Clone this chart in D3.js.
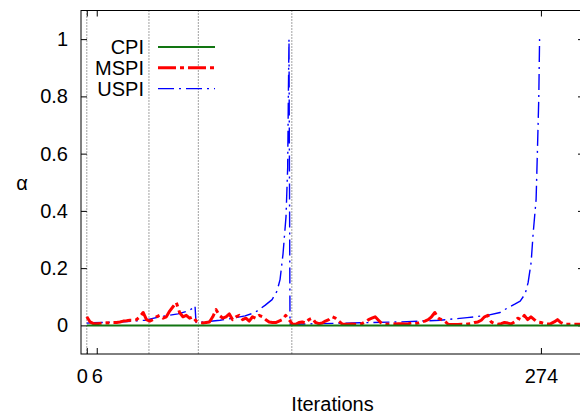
<!DOCTYPE html>
<html>
<head>
<meta charset="utf-8">
<script src="https://cdn.jsdelivr.net/npm/d3@7"></script>
<style>
  body { margin: 0; background: #fff; }
  svg { display: block; font-family: "Liberation Sans", Arial, sans-serif; }
</style>
</head>
<body>
<div id="chart"></div>
<script>
// series names / colours
var names = ["CPI", "MSPI", "USPI"];
var colors = ["#127512", "#ff0000", "#0000ff"];

// axis ticks
var xTicks = [0, 6, 274];
var yTicks = [0, 0.2, 0.4, 0.6, 0.8, 1];

// vertical dotted markers (iterations)
var marks = [0, 37.5, 67.3, 123.7];

// CPI stays at zero the whole run
var cpiIter = [0, 300];
var cpiVal = [0, 0];

// MSPI, one value every 2 iterations starting at 0
var mspiVal = [0.03, 0.012, 0.006, 0.006, 0.007, 0.008, 0.009, 0.008, 0.01, 0.01,
  0.012, 0.015, 0.016, 0.018, 0.018, 0.02, 0.03, 0.045, 0.02, 0.015,
  0.02, 0.03, 0.035, 0.025, 0.03, 0.05, 0.065, 0.08, 0.045, 0.03,
  0.035, 0.025, 0.03, 0.015, 0.01, 0.008, 0.01, 0.012, 0.03, 0.055,
  0.035, 0.025, 0.03, 0.04, 0.02, 0.03, 0.035, 0.02, 0.025, 0.015,
  0.03, 0.025, 0.035, 0.03, 0.02, 0.012, 0.01, 0.01, 0.015, 0.02,
  0.035, 0.02, 0.005, 0.004, 0.01, 0.012, 0.008, 0.02, 0.025, 0.01,
  0.006, 0.008, 0.015, 0.02, 0.03, 0.025, 0.015, 0.005, 0.004, 0.004,
  0.005, 0.004, 0.004, 0.006, 0.012, 0.02, 0.025, 0.03, 0.018, 0.006,
  0.005, 0.004, 0.006, 0.005, 0.006, 0.006, 0.005, 0.006, 0.008, 0.006,
  0.008, 0.012, 0.015, 0.02, 0.03, 0.045, 0.025, 0.02, 0.015, 0.004,
  0.003, 0.003, 0.003, 0.004, 0.003, 0.005, 0.006, 0.01, 0.012, 0.018,
  0.03, 0.035, 0.012, 0.006, 0.004, 0.006, 0.01, 0.008, 0.005, 0.012,
  0.025, 0.02, 0.035, 0.02, 0.03, 0.02, 0.012, 0.01, 0.006, 0.005,
  0.006, 0.012, 0.02, 0.01, 0.004, 0.004, 0.004, 0.004, 0.004, 0.004];

// USPI, read at irregular iterations
var uspiIter = [0, 3.7, 20, 35.1, 44.2, 55, 61, 64.1, 65.3, 65.9,
  71.3, 80.4, 88.2, 95.5, 101.5, 107.5, 111.8, 114.8, 116.6, 118.4,
  120.2, 121.2, 121.6, 122, 122.6, 123.8, 140.7, 164.9, 189, 213.2,
  229.5, 241.6, 249.4, 253.6, 258.5, 261.5, 264.5, 266.3, 268.1, 269.3,
  271.1, 271.9, 272.7, 273.2];
var uspiVal = [0.008, 0.009, 0.012, 0.018, 0.03, 0.04, 0.05, 0.06, 0.068, 0.01,
  0.012, 0.018, 0.025, 0.033, 0.045, 0.07, 0.09, 0.12, 0.16, 0.25,
  0.38, 0.55, 0.79, 1.0, 0.005, 0.004, 0.006, 0.009, 0.012, 0.018,
  0.027, 0.035, 0.045, 0.06, 0.075, 0.085, 0.11, 0.15, 0.22, 0.32,
  0.44, 0.61, 0.79, 1.0];

var width = 580, height = 415;
// plot box (right edge falls just outside the window, as in the original)
var pLeft = 81, pRight = 584, pTop = 10.5, pBottom = 354;
var fontSize = 20;

var svg = d3.select("#chart").append("svg")
  .attr("width", width)
  .attr("height", height);

var x = d3.scaleLinear().domain([-3.5, 300]).range([pLeft, pRight]);
var y = d3.scaleLinear().domain([-0.1, 1.1]).range([pBottom, pTop]);

svg.append("clipPath").attr("id", "plot")
  .append("rect")
  .attr("x", pLeft).attr("y", pTop)
  .attr("width", pRight - pLeft).attr("height", pBottom - pTop);

// ticks, inward on all four sides (gnuplot style)
function styleAxis(g) {
  g.select(".domain").remove();
  g.selectAll("line").attr("stroke", "#000");
  g.selectAll("text")
    .attr("fill", "#000")
    .attr("font-size", fontSize)
    .attr("font-family", "Liberation Sans, Arial, sans-serif");
}

svg.append("g")
  .attr("transform", "translate(" + pLeft + ",0)")
  .call(d3.axisLeft(y).tickValues(yTicks).tickSize(-6).tickPadding(13)
    .tickFormat(function(d) { return d; }))
  .call(styleAxis);

svg.append("g")
  .attr("transform", "translate(" + pRight + ",0)")
  .call(d3.axisRight(y).tickValues(yTicks).tickSize(-6).tickFormat(""))
  .call(styleAxis);

var xAxis = svg.append("g")
  .attr("transform", "translate(0," + pBottom + ")")
  .call(d3.axisBottom(x).tickValues(xTicks).tickSize(-6).tickPadding(14.5)
    .tickFormat(function(d) { return d; }))
  .call(styleAxis);
// "0" sits a little left of its tick in the original
xAxis.selectAll("text").attr("dx", function(d) { return d === 0 ? -5 : 0; });

svg.append("g")
  .attr("transform", "translate(0," + pTop + ")")
  .call(d3.axisTop(x).tickValues(xTicks).tickSize(-6).tickFormat(""))
  .call(styleAxis);

// dotted markers
svg.selectAll(".mark").data(marks).enter()
  .append("line")
  .attr("class", "mark")
  .attr("x1", function(d) { return x(d); })
  .attr("x2", function(d) { return x(d); })
  .attr("y1", pTop).attr("y2", pBottom)
  .attr("stroke", "#444")
  .attr("stroke-width", 1)
  .attr("stroke-dasharray", "1,2");

var line = d3.line()
  .x(function(d) { return x(d[0]); })
  .y(function(d) { return y(d[1]); });

var series = [
  cpiIter.map(function(d, i) { return [d, cpiVal[i]]; }),
  mspiVal.map(function(d, i) { return [i * 2, d]; }),
  uspiIter.map(function(d, i) { return [d, uspiVal[i]]; })
];
var widths = [2, 3, 1.4];
var dashes = [null, "18,4,4,4", "16,5,2,5"];

var plot = svg.append("g").attr("clip-path", "url(#plot)");
// draw USPI first, then MSPI, CPI on top
[2, 1, 0].forEach(function(k) {
  plot.append("path")
    .datum(series[k])
    .attr("d", line)
    .attr("fill", "none")
    .attr("stroke", colors[k])
    .attr("stroke-width", widths[k])
    .attr("stroke-dasharray", dashes[k])
    .attr("stroke-linejoin", "round");
});

// frame
svg.append("rect")
  .attr("x", pLeft).attr("y", pTop)
  .attr("width", pRight - pLeft).attr("height", pBottom - pTop)
  .attr("fill", "none")
  .attr("stroke", "#000")
  .attr("stroke-width", 1);

// legend
var legend = svg.selectAll(".legend").data(names).enter()
  .append("g")
  .attr("class", "legend")
  .attr("transform", function(d, i) { return "translate(0," + (47 + i * 20.8) + ")"; });

legend.append("text")
  .attr("x", 144)
  .attr("y", 7)
  .attr("text-anchor", "end")
  .attr("font-size", fontSize)
  .text(function(d) { return d; });

legend.append("line")
  .attr("x1", 158).attr("x2", 215)
  .attr("stroke", function(d, i) { return colors[i]; })
  .attr("stroke-width", function(d, i) { return widths[i]; })
  .attr("stroke-dasharray", function(d, i) { return dashes[i]; });

// axis titles
svg.append("text")
  .attr("x", 22).attr("y", 190)
  .attr("text-anchor", "middle")
  .attr("font-size", fontSize)
  .text("α");

svg.append("text")
  .attr("x", (pLeft + pRight) / 2).attr("y", 411)
  .attr("text-anchor", "middle")
  .attr("font-size", fontSize)
  .text("Iterations");
</script>
</body>
</html>
